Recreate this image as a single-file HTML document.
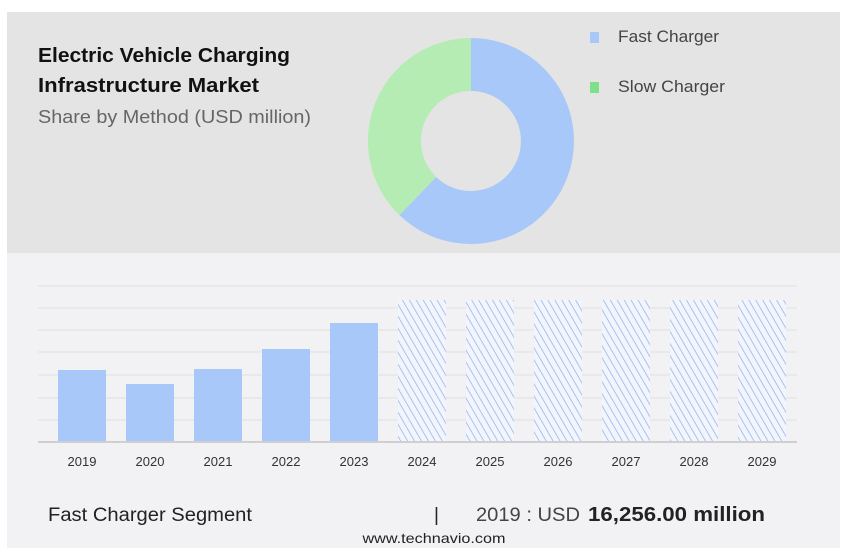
<!DOCTYPE html>
<html><head><meta charset="utf-8"><style>
body{margin:0;background:#fff;width:849px;height:553px;overflow:hidden;font-family:"Liberation Sans",sans-serif}
</style></head><body>
<svg width="849" height="553" viewBox="0 0 849 553" xmlns="http://www.w3.org/2000/svg" font-family="Liberation Sans, sans-serif">
<defs>
<pattern id="h" patternUnits="userSpaceOnUse" width="6" height="6" patternTransform="rotate(-30)">
<rect width="6" height="6" fill="#f2f5fb"/>
<line x1="0" y1="0" x2="0" y2="6" stroke="#a9c3ee" stroke-width="2"/>
</pattern>
<clipPath id="c"><rect x="7" y="12" width="833" height="241"/></clipPath>
</defs>
<rect x="7" y="12" width="833" height="241" fill="#e4e4e4"/>
<rect x="7" y="253" width="833" height="295" fill="#f2f2f4"/>
<text x="38" y="62" font-size="20" font-weight="bold" fill="#111" textLength="252" lengthAdjust="spacingAndGlyphs">Electric Vehicle Charging</text>
<text x="38" y="92" font-size="20" font-weight="bold" fill="#111" textLength="221" lengthAdjust="spacingAndGlyphs">Infrastructure Market</text>
<text x="38" y="123" font-size="18" fill="#666" textLength="273" lengthAdjust="spacingAndGlyphs">Share by Method (USD million)</text>
<g clip-path="url(#c)">
<path d="M471,38 A103,103 0 1 1 399.4,215.1 L436.2,177 A50,50 0 1 0 471,91 Z" fill="#a8c8fa"/>
<path d="M399.4,215.1 A103,103 0 0 1 471,38 L471,91 A50,50 0 0 0 436.2,177 Z" fill="#b4ecb4"/>
</g>
<rect x="590" y="32" width="9" height="11" fill="#a8c8fa"/>
<text x="618" y="42" font-size="17" fill="#444" textLength="101" lengthAdjust="spacingAndGlyphs">Fast Charger</text>
<rect x="590" y="82" width="9" height="11" fill="#7ee08a"/>
<text x="618" y="92" font-size="17" fill="#444" textLength="107" lengthAdjust="spacingAndGlyphs">Slow Charger</text>
<g stroke="#e0e0e2" stroke-width="1">
<line x1="38" x2="797" y1="286" y2="286"/><line x1="38" x2="797" y1="308" y2="308"/>
<line x1="38" x2="797" y1="330" y2="330"/><line x1="38" x2="797" y1="352" y2="352"/>
<line x1="38" x2="797" y1="375" y2="375"/><line x1="38" x2="797" y1="398" y2="398"/>
<line x1="38" x2="797" y1="420" y2="420"/>
</g>
<g fill="#a8c8fa">
<rect x="58" y="370" width="48" height="72"/>
<rect x="126" y="384" width="48" height="58"/>
<rect x="194" y="369" width="48" height="73"/>
<rect x="262" y="349" width="48" height="93"/>
<rect x="330" y="323" width="48" height="119"/>
</g>
<g fill="url(#h)">
<rect x="398" y="300" width="48" height="142"/><rect x="466" y="300" width="48" height="142"/>
<rect x="534" y="300" width="48" height="142"/><rect x="602" y="300" width="48" height="142"/>
<rect x="670" y="300" width="48" height="142"/><rect x="738" y="300" width="48" height="142"/>
</g>
<line x1="38" x2="797" y1="442" y2="442" stroke="#cfcfd2" stroke-width="2"/>
<g font-size="13" fill="#333" text-anchor="middle">
<text x="82" y="466">2019</text><text x="150" y="466">2020</text><text x="218" y="466">2021</text>
<text x="286" y="466">2022</text><text x="354" y="466">2023</text><text x="422" y="466">2024</text>
<text x="490" y="466">2025</text><text x="558" y="466">2026</text><text x="626" y="466">2027</text>
<text x="694" y="466">2028</text><text x="762" y="466">2029</text>
</g>
<text x="48" y="521" font-size="19" fill="#222" textLength="204" lengthAdjust="spacingAndGlyphs">Fast Charger Segment</text>
<text x="434" y="521" font-size="19" fill="#222">|</text>
<text x="476" y="521" font-size="19" fill="#444" textLength="104" lengthAdjust="spacingAndGlyphs">2019 : USD</text>
<text x="588" y="521" font-size="20" font-weight="bold" fill="#222" textLength="177" lengthAdjust="spacingAndGlyphs">16,256.00 million</text>
<text x="434" y="543" font-size="14" fill="#222" text-anchor="middle" textLength="143" lengthAdjust="spacingAndGlyphs">www.technavio.com</text>
</svg>
</body></html>
